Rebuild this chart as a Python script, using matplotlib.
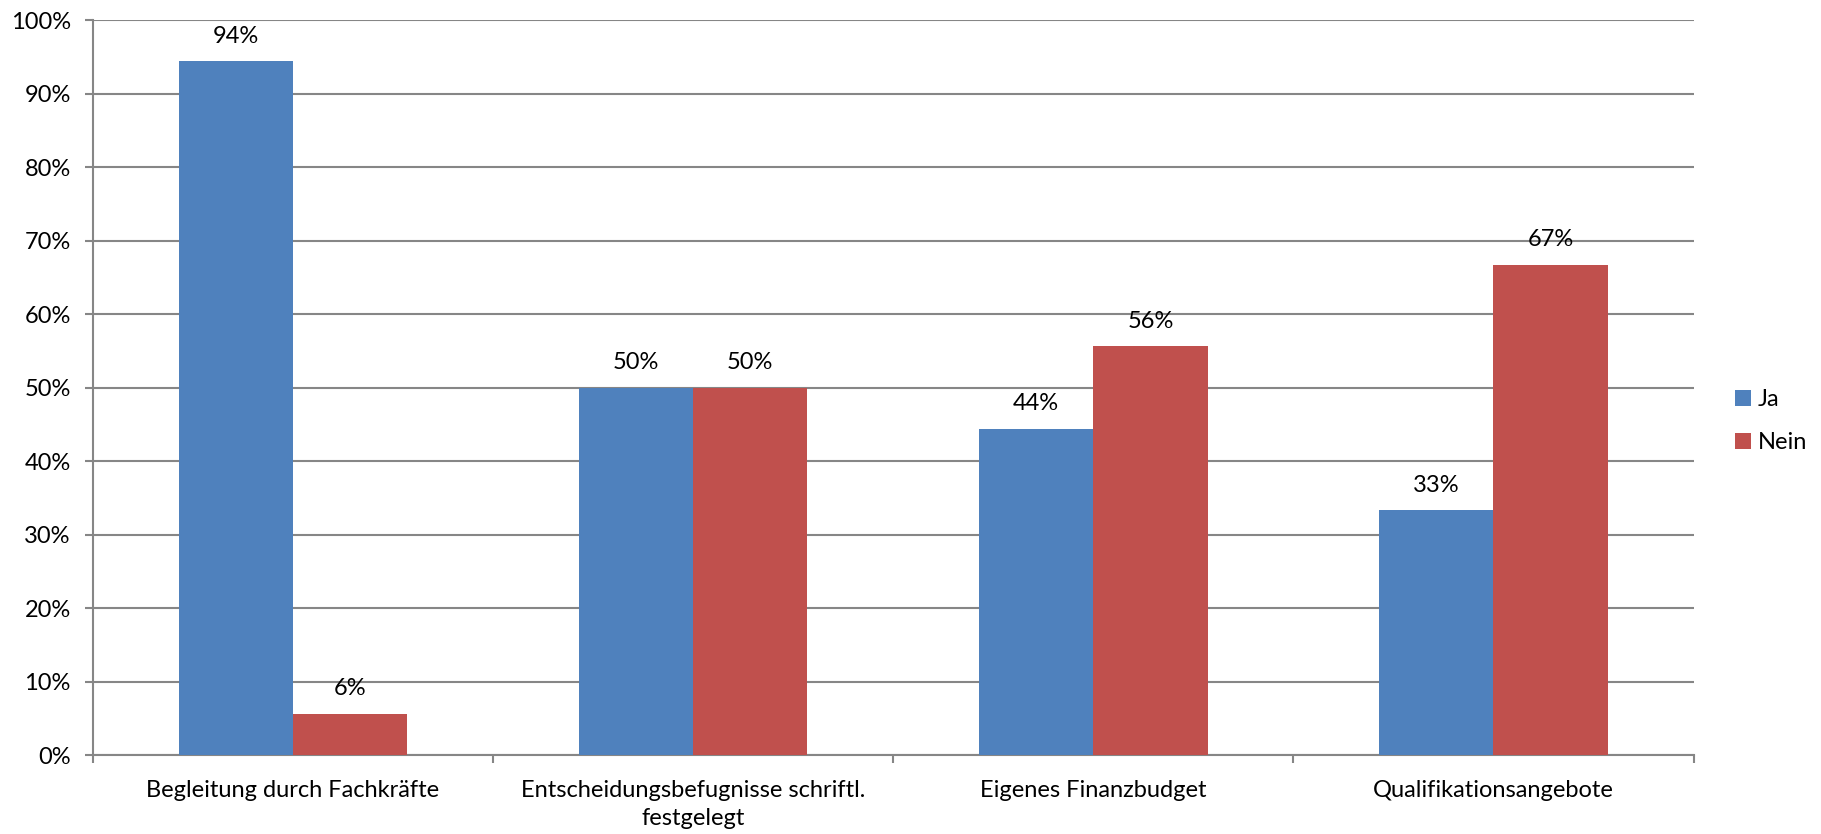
import numpy as np
import matplotlib.pyplot as plt

plt.rcParams['font.family'] = ['Lato', 'DejaVu Sans']

# data
categories = ['Begleitung durch Fachkräfte',
              'Entscheidungsbefugnisse schriftl.\nfestgelegt',
              'Eigenes Finanzbudget',
              'Qualifikationsangebote']
ja = [94.4, 50.0, 44.4, 33.3]
nein = [5.6, 50.0, 55.6, 66.7]

blue = '#4F81BD'
red = '#C0504D'
grid_col = '#868686'
fs = 17

fig = plt.figure(figsize=(18.21, 8.34), dpi=100)
ax = fig.add_axes([0.051, 0.0947, 0.879, 0.881])

x = np.arange(len(categories))
w = 1 / 3.5
b1 = ax.bar(x - w / 2, ja, w, color=blue, label='Ja', zorder=3)
b2 = ax.bar(x + w / 2, nein, w, color=red, label='Nein', zorder=3)

for bars in (b1, b2):
    for bar in bars:
        h = bar.get_height()
        ax.annotate(f'{h:.0f}%', (bar.get_x() + bar.get_width() / 2, h),
                    xytext=(0, 13.5), textcoords='offset points',
                    ha='center', va='baseline', fontsize=fs)

ax.set_xlim(-0.5, len(categories) - 0.5)
ax.set_ylim(0, 100)
ax.set_yticks(range(0, 101, 10))
ax.set_yticklabels([f'{v}%' for v in range(0, 101, 10)])
ax.yaxis.grid(True, color=grid_col, linewidth=1.5, zorder=0)

ax.set_xticks(x)
ax.set_xticklabels(categories, linespacing=1.4)
ax.set_xticks(np.arange(-0.5, len(categories)), minor=True)
ax.tick_params(axis='x', which='major', length=0, pad=18, labelsize=fs)
ax.tick_params(axis='x', which='minor', length=6, width=1.5, color=grid_col)
ax.tick_params(axis='y', length=6, width=1.5, color=grid_col, pad=10, labelsize=fs)

for s in ('top', 'right'):
    ax.spines[s].set_visible(False)
for s in ('left', 'bottom'):
    ax.spines[s].set_color(grid_col)
    ax.spines[s].set_linewidth(1.5)

fig.legend(handles=[b1, b2], labels=['Ja', 'Nein'], loc='center left',
           bbox_to_anchor=(0.953, 0.495), frameon=False, borderpad=0,
           borderaxespad=0, fontsize=fs, handlelength=0.65, handleheight=0.65,
           handletextpad=0.3, labelspacing=0.95)

fig.savefig('out.png', dpi=100)
